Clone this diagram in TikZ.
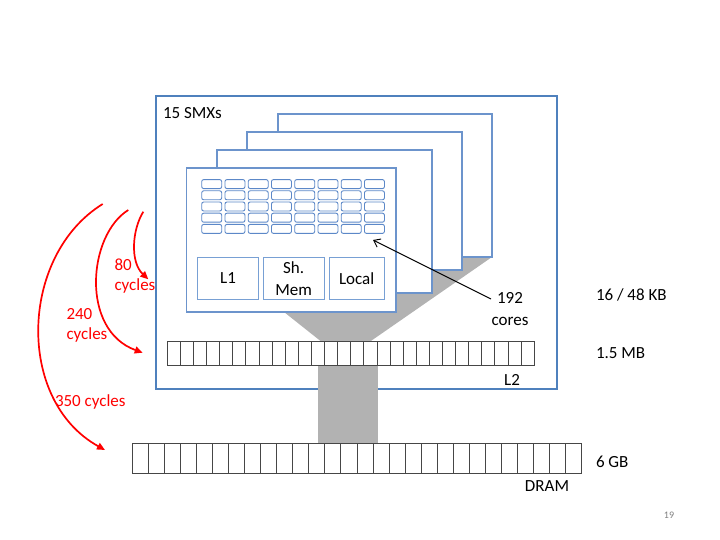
\documentclass[tikz,border=0pt]{standalone}
\usepackage{fontspec}
\setmainfont{Carlito}
\usetikzlibrary{arrows.meta}
\definecolor{outerblue}{RGB}{79,129,189}
\definecolor{cardblue}{RGB}{108,148,204}
\definecolor{coreblue}{RGB}{92,136,200}
\definecolor{memblue}{RGB}{120,160,212}
\definecolor{shadegray}{RGB}{178,178,178}
\definecolor{barline}{RGB}{70,70,70}
\definecolor{cycred}{RGB}{255,0,0}
\begin{document}
\begin{tikzpicture}[x=1pt,y=-1pt,
  font=\fontsize{17}{20}\selectfont,
  outerbox/.style={draw=outerblue, line width=1.8pt, anchor=north west, inner sep=0pt, outer sep=0pt},
  card/.style={draw=cardblue, fill=white, line width=1.5pt, anchor=north west, inner sep=0pt, outer sep=0pt},
  core/.style={draw=coreblue, line width=0.9pt, rounded corners=2pt, anchor=north west, inner sep=0pt, outer sep=0pt, minimum width=20pt, minimum height=9pt},
  membox/.style={draw=memblue, line width=1pt, anchor=north west, inner sep=0pt, outer sep=0pt, minimum height=41.6pt, align=center},
  bar/.style={draw=barline, fill=white, line width=1.1pt, anchor=north west, inner sep=0pt, outer sep=0pt},
  cell/.style={draw=barline, line width=1pt},
  lbl/.style={inner sep=0pt, outer sep=0pt},
  redarrow/.style={draw=cycred, line width=1.7pt, -{Triangle[length=8pt,width=7pt]}},
  redtext/.style={text=cycred, inner sep=0pt, outer sep=0pt, align=left}
]
\useasboundingbox (0,0) rectangle (720,540);

% outer SMX box
\node[outerbox, minimum width=401pt, minimum height=293pt] (smx) at (156,96) {};
\node[lbl, anchor=west] (smxlbl) at (163,113) {15 SMXs};

% gray funnel and column
\fill[shadegray] (284,312) -- (323,343) -- (368,343) -- (492,257) -- (300,257) -- cycle;
\fill[shadegray] (318,360) rectangle (378,446);

% stacked SMX cards, back to front
\node[card, minimum width=214pt, minimum height=143pt] (card4) at (278,114) {};
\node[card, minimum width=215pt, minimum height=138pt] (card3) at (247,132) {};
\node[card, minimum width=215pt, minimum height=143pt] (card2) at (217,150) {};
\node[card, minimum width=209.5pt, minimum height=144pt] (card1) at (186.5,168) {};

% 8x5 cores
\foreach \i in {0,...,7}{
  \foreach \j in {0,...,4}{
    \node[core] (core\i\j) at ({201.7+23.25*\i},{179.6+11.2*\j}) {};
  }
}

% memories
\node[membox, minimum width=60.6pt] (l1) at (197.7,257.7) {L1};
\node[membox, minimum width=60.7pt, font=\fontsize{17}{22.5}\selectfont] (shmem) at (263.3,257.7) {Sh.\\Mem};
\node[membox, minimum width=54.7pt] (local) at (329.3,257.7) {Local};

% L2 bar
\node[bar, minimum width=367pt, minimum height=24pt] (l2) at (167.3,341.7) {};
\foreach \k in {1,...,27}{
  \draw[cell] ({167.3+\k*13.107},341.7) -- ++(0,24);
}
\node[lbl] (l2lbl) at (512,380) {L2};

% DRAM bar
\node[bar, minimum width=449.4pt, minimum height=30pt] (dram) at (132.3,443.3) {};
\foreach \k in {1,...,27}{
  \draw[cell] ({132.3+\k*16.05},443.3) -- ++(0,30);
}
\node[lbl] (dramlbl) at (547,486) {DRAM};

% right-hand sizes
\node[lbl, anchor=west] (kb) at (596,295) {16 / 48 KB};
\node[lbl, anchor=west] (mb) at (596,353) {1.5 MB};
\node[lbl, anchor=west] (gb) at (596,462) {6 GB};

% 192 cores
\node[lbl, align=center, font=\fontsize{17}{22}\selectfont] (cores) at (510,309) {192\\cores};
\coordinate (coresfrom) at (491,299);
\coordinate (coresto) at (373,240);
\draw[line width=1pt, -{Straight Barb[length=6pt,width=9pt]}] (coresfrom) -- (coresto);

% latency arrows
\coordinate (a80s) at (143.3,211.7);
\coordinate (a80e) at (148.3,279.3);
\coordinate (a240s) at (128.3,210);
\coordinate (a240e) at (142.7,352.7);
\coordinate (a350s) at (102.7,204);
\coordinate (a350e) at (105,450);
\draw[redarrow] (a80s) .. controls (132,230) and (130,262) .. (a80e);
\draw[redarrow] (a240s) .. controls (88,235) and (80,330) .. (a240e);
\draw[redarrow] (a350s) .. controls (20,255) and (15,400) .. (a350e);
\node[redtext, anchor=west] (t80) at (114.5,276) {80\\cycles};
\node[redtext, anchor=west] (t240) at (66.5,325) {240\\cycles};
\node[redtext, anchor=west] (t350) at (55,402) {350 cycles};

% slide number
\node[lbl, text=gray, font=\fontsize{10}{11}\selectfont] (pagenum) at (669,515) {19};
\end{tikzpicture}
\end{document}
